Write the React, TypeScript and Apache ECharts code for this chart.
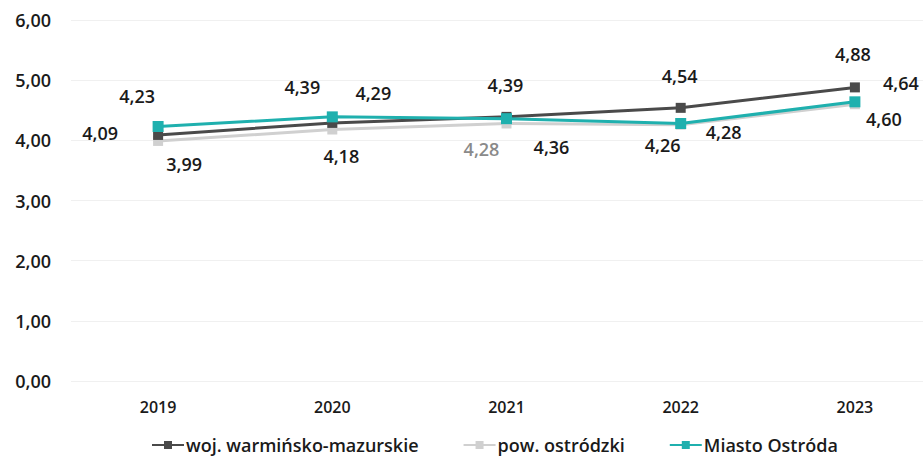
import React, { useEffect, useRef } from "react";
import * as echarts from "echarts";

const years = ["2019", "2020", "2021", "2022", "2023"];
const seriesNames = ["woj. warmińsko-mazurskie", "pow. ostródzki", "Miasto Ostróda"];
const wojValues = [4.09, 4.29, 4.39, 4.54, 4.88];
const powValues = [3.99, 4.18, 4.28, 4.26, 4.6];
const miastoValues = [4.23, 4.39, 4.36, 4.28, 4.64];
const yTicks = [0, 1, 2, 3, 4, 5, 6];

// label offsets (presentation only)
const wojOffsets = [[-58, -2], [41, -30], [-1, -32], [-1, -32], [-2, -33]];
const powOffsets = [[26, 23], [9, 26], [-25, 26], [-18, 20], [29, 15]];
const miastoOffsets = [[-21, -30], [-30, -30], [45, 28], [43, 9], [46, -19]];

const FONT = "'Open Sans', sans-serif";
const WEIGHT = 600;

function fmt(v: number) {
  return v.toFixed(2).replace(".", ",");
}

function buildData(values: number[], offsets: number[][], colors?: (string | null)[]) {
  return values.map((v, i) => ({
    value: v,
    label: {
      offset: offsets[i],
      ...(colors && colors[i] ? { color: colors[i] } : {}),
    },
  }));
}

export default function App() {
  const ref = useRef<HTMLDivElement>(null);
  useEffect(() => {
    if (!ref.current) return;
    const chart = echarts.init(ref.current, null, { renderer: "svg" });
    const baseLabel = {
      show: true,
      position: "inside",
      fontFamily: FONT,
      fontSize: 18,
      fontWeight: WEIGHT,
      color: "#1a1a1a",
      formatter: (p: any) => fmt(p.value),
    };
    chart.setOption({
      animation: false,
      backgroundColor: "#ffffff",
      textStyle: { fontFamily: FONT },
      grid: { left: 71, top: 20, height: 361, width: 871, outerBoundsMode: "none", containLabel: false },
      legend: {
        top: 431,
        left: 146,
        itemWidth: 32,
        itemHeight: 10,
        itemGap: 44,
        textStyle: { fontFamily: FONT, fontSize: 18, fontWeight: WEIGHT, color: "#1a1a1a", padding: [0, 0, 0, -3] },
        data: seriesNames,
      },
      xAxis: {
        type: "category",
        data: years,
        boundaryGap: true,
        axisLine: { show: false },
        axisTick: { show: false },
        axisLabel: { fontFamily: FONT, fontSize: 16, fontWeight: WEIGHT, color: "#1a1a1a", margin: 18 },
      },
      yAxis: {
        type: "value",
        min: yTicks[0],
        max: yTicks[yTicks.length - 1],
        interval: 1,
        axisLine: { show: false },
        axisTick: { show: false },
        splitLine: { lineStyle: { color: "#f0f0f0", width: 1 } },
        axisLabel: {
          fontFamily: FONT,
          fontSize: 18,
          fontWeight: WEIGHT,
          color: "#1a1a1a",
          margin: 20,
          formatter: (v: number) => fmt(v),
        },
      },
      series: [
        {
          name: seriesNames[0],
          type: "line",
          data: buildData(wojValues, wojOffsets),
          color: "#4a4a4a",
          lineStyle: { color: "#4a4a4a", width: 3 },
          itemStyle: { color: "#4a4a4a" },
          symbol: "rect",
          symbolSize: 10,
          label: baseLabel,
          z: 2,
        },
        {
          name: seriesNames[1],
          type: "line",
          data: buildData(powValues, powOffsets, [null, null, "#8a8a8a", null, null]),
          color: "#d0d0d0",
          lineStyle: { color: "#d0d0d0", width: 3 },
          itemStyle: { color: "#d0d0d0" },
          symbol: "rect",
          symbolSize: 10,
          label: baseLabel,
          z: 1,
        },
        {
          name: seriesNames[2],
          type: "line",
          data: buildData(miastoValues, miastoOffsets),
          color: "#1fb0ae",
          lineStyle: { color: "#1fb0ae", width: 3 },
          itemStyle: { color: "#1fb0ae" },
          symbol: "rect",
          symbolSize: 11,
          label: baseLabel,
          z: 3,
        },
      ],
    });
    return () => chart.dispose();
  }, []);
  return (
    <div
      ref={ref}
      style={{ position: "fixed", left: 0, top: 0, width: 923, height: 463 }}
    />
  );
}
